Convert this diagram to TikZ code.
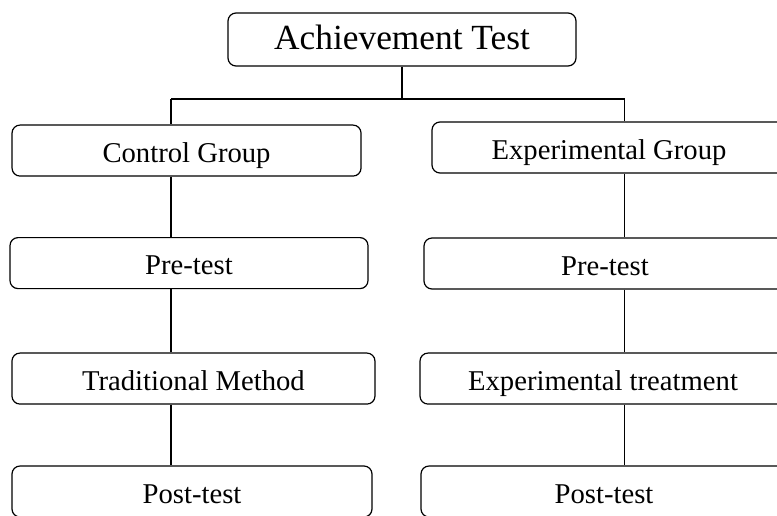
\documentclass[tikz,border=0pt]{standalone}
\usepackage{fontspec}
\setmainfont{Liberation Serif}
\usetikzlibrary{positioning}
\tikzset{
	box/.style={draw, rectangle, rounded corners=6pt, line width=0.9pt, inner sep=2pt, minimum width=270pt, minimum height=38.25pt, text height=17.5pt, text depth=0pt, font=\fontsize{21.5}{24}\selectfont},
	head/.style={box, minimum width=261pt, minimum height=39.75pt, text height=14.25pt, font=\fontsize{26.5}{30}\selectfont},
	link/.style={line width=0.8pt},
}

\begin{document}
\begin{tikzpicture}[x=0.75pt, y=-0.75pt, node distance=85.5pt]
			\clip (0,0) rectangle (777,515);
			\node (top) [head] at (402,39.5) {Achievement Test};
			
			\node (cg) [box, below of=top, xshift=-161.6pt, yshift=2.2pt, minimum width=261.75pt] {Control Group};
			\node (eg) [box, below of=top, xshift=155.25pt, yshift=4.5pt, minimum width=265.5pt] {Experimental Group};
			
			\node (prel) [box, below of=cg, xshift=1.85pt, yshift=1.1pt, minimum width=268.5pt] {Pre-test};
			\node (prer) [box, below of=eg, xshift=-3pt, yshift=-1.5pt, minimum width=271.5pt] {Pre-test};
			
			\node (tm) [box, below of=prel, xshift=3.35pt, yshift=-1.1pt, minimum width=272.25pt] {Traditional Method};
			\node (et) [box, below of=prer, xshift=-1.5pt, yshift=-0.8pt, minimum width=274.5pt] {Experimental treatment};
			
			\node (postl) [box, below of=tm, xshift=-1.1pt, yshift=0.8pt, minimum width=270pt] {Post-test};
			\node (postr) [box, below of=et, xshift=0.75pt, yshift=0.8pt, minimum width=274.5pt] {Post-test};
			
			% fork under the top box
			\coordinate (fork) at (402,99);
			\coordinate (jl) at (171,99);
			\coordinate (jr) at (624.5,99);
			
			\begin{scope}[link]
				\draw (top) -- (fork);
				\draw (jl) -- (jr);
				\draw (jl) -- (jl |- cg.north);
				\draw (jr) -- (jr |- eg.north);
				\draw (cg.south -| jl) -- (prel.north -| jl);
				\draw (prel.south -| jl) -- (tm.north -| jl);
				\draw (tm.south -| jl) -- (postl.north -| jl);
				\draw (eg.south -| jr) -- (prer.north -| jr);
				\draw (prer.south -| jr) -- (et.north -| jr);
				\draw (et.south -| jr) -- (postr.north -| jr);
			\end{scope}
\end{tikzpicture}
\end{document}
